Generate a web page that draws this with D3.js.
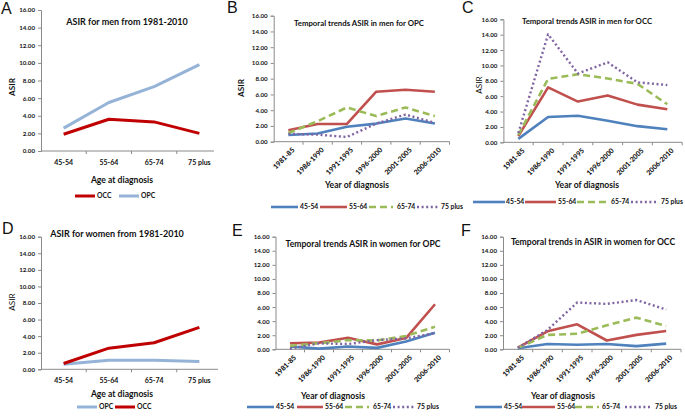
<!DOCTYPE html>
<html><head><meta charset="utf-8">
<script src="https://cdn.jsdelivr.net/npm/d3@7"></script>
<style>
body{margin:0;background:#fff}
svg{display:block}
text{font-family:Lato,"Open Sans",sans-serif;fill:#111}
</style>
</head><body><svg id="c" width="685" height="417"></svg>
<script>
// ---------- DATA ----------
const ageGroups = ["45-54", "55-64", "65-74", "75 plus"];
const periods = ["1981-85", "1986-1990", "1991-1995", "1996-2000", "2001-2005", "2006-2010"];
const yTickValues = [0, 2, 4, 6, 8, 10, 12, 14, 16];

// A: men, by age
const menOCC = [1.9, 3.6, 3.3, 2.0];
const menOPC = [2.6, 5.5, 7.3, 9.8];
// D: women, by age
const womenOPC = [0.6, 1.1, 1.1, 0.95];
const womenOCC = [0.7, 2.55, 3.2, 5.05];
// B: men OPC, by period
const menOPC_45_54 = [0.85, 1.05, 1.9, 2.3, 2.95, 2.3];
const menOPC_55_64 = [1.45, 2.25, 2.25, 6.35, 6.6, 6.35];
const menOPC_65_74 = [1.1, 2.6, 4.35, 3.25, 4.35, 3.25];
const menOPC_75plus = [1.0, 0.9, 0.6, 2.3, 3.45, 2.4];
// C: men OCC, by period
const menOCC_45_54 = [0.45, 3.3, 3.45, 2.8, 2.1, 1.7];
const menOCC_55_64 = [0.8, 7.15, 5.3, 6.1, 4.9, 4.3];
const menOCC_65_74 = [0.95, 8.25, 8.85, 8.3, 7.6, 4.95];
const menOCC_75plus = [1.2, 14.05, 8.95, 10.4, 7.8, 7.45];
// E: women OPC, by period
const womenOPC_45_54 = [0.4, 0.1, 0.4, 0.2, 1.1, 2.35];
const womenOPC_55_64 = [0.85, 0.95, 1.65, 0.7, 1.6, 6.4];
const womenOPC_65_74 = [0.5, 0.85, 1.3, 1.25, 1.9, 3.2];
const womenOPC_75plus = [0.1, 0.85, 0.75, 1.3, 1.55, 2.3];
// F: women OCC, by period
const womenOCC_45_54 = [0.15, 0.75, 0.65, 0.75, 0.45, 0.8];
const womenOCC_55_64 = [0.25, 2.55, 3.55, 1.25, 2.05, 2.6];
const womenOCC_65_74 = [0.2, 2.05, 2.2, 3.4, 4.5, 3.3];
const womenOCC_75plus = [0.2, 2.75, 6.65, 6.45, 7.0, 5.65];

// ---------- STYLES ----------
const AXIS = "#8a8a8a";
const ST = {
  OCC: {color: "#C00000", width: 3, dash: null},
  OPC: {color: "#95B3D7", width: 3, dash: null},
  "45-54": {color: "#4F81BD", width: 2.6, dash: null},
  "55-64": {color: "#C0504D", width: 2.6, dash: null},
  "65-74": {color: "#9BBB59", width: 2.6, dash: "7,4"},
  "75 plus": {color: "#8064A2", width: 2.4, dash: "2,2.6"}
};

const svg = d3.select("#c");

function panel(cfg) {
  const g = svg.append("g");
  const x = d3.scaleBand().domain(cfg.cats).range(cfg.xr);
  const y = d3.scaleLinear().domain([0, 16]).range(cfg.yr);
  const x0 = cfg.xr[0], yb = cfg.yr[0];

  // y axis
  const ya = g.append("g").attr("transform", `translate(${x0},0)`)
    .call(d3.axisLeft(y).tickValues(yTickValues).tickFormat(d3.format(".2f")).tickSize(3).tickPadding(3));
  ya.select(".domain").attr("stroke", AXIS);
  ya.selectAll(".tick line").attr("stroke", AXIS);
  ya.selectAll(".tick text").attr("font-size", 6.2).attr("font-weight", 700)
    .attr("font-family", "Lato,sans-serif").attr("fill", "#111");

  // x axis
  const xa = g.append("g");
  xa.append("line").attr("x1", x0).attr("x2", cfg.xEnd || cfg.xr[1]).attr("y1", yb).attr("y2", yb)
    .attr("stroke", AXIS);
  const edges = cfg.cats.map(c => x(c)).concat([cfg.xr[1]]).slice(1);
  xa.selectAll("line.t").data(edges.filter(e => e <= (cfg.xEnd || cfg.xr[1]) + 0.5)).join("line")
    .attr("x1", d => d).attr("x2", d => d).attr("y1", yb).attr("y2", yb + 3).attr("stroke", AXIS);

  const cx = c => x(c) + x.bandwidth() / 2;
  if (cfg.rotate) {
    xa.selectAll("text.xl").data(cfg.cats).join("text")
      .attr("transform", c => `translate(${cx(c) + 5},${yb + 7}) rotate(-45)`)
      .attr("text-anchor", "end").attr("dy", "0.35em")
      .attr("font-size", 7).attr("font-weight", 900).attr("fill", "#000").text(c => c);
  } else {
    xa.selectAll("text.xl").data(cfg.cats).join("text")
      .attr("x", c => cx(c)).attr("y", yb + 14)
      .attr("text-anchor", "middle")
      .attr("font-size", 7).attr("font-weight", 700).text(c => c);
  }

  // lines
  const line = d3.line().x((d, i) => cx(cfg.cats[i])).y(d => y(d));
  cfg.series.forEach(s => {
    const st = ST[s.name];
    g.append("path").datum(s.values).attr("d", line)
      .attr("fill", "none").attr("stroke", st.color).attr("stroke-width", st.width)
      .attr("stroke-dasharray", st.dash).attr("stroke-linejoin", "round");
  });

  // title
  g.append("text").attr("x", cfg.title[1]).attr("y", cfg.title[2]).attr("text-anchor", "middle")
    .attr("font-size", cfg.title[3]).attr("font-weight", 700).text(cfg.title[0]);
  // x label
  g.append("text").attr("x", cfg.xlab[1]).attr("y", cfg.xlab[2]).attr("text-anchor", "middle")
    .attr("font-size", 8.6).attr("font-weight", 700).text(cfg.xlab[0]);
  // y label
  if (cfg.ylab) {
    g.append("text").attr("transform", `translate(${cfg.ylab[0]},${cfg.ylab[1]}) rotate(-90)`)
      .attr("text-anchor", "middle").attr("dy", "0.35em")
      .attr("font-size", 8.2).attr("font-weight", cfg.ylab[2] ? 700 : 400).text("ASIR");
  }
  // panel letter
  svg.append("text").attr("x", cfg.letter[1]).attr("y", cfg.letter[2])
    .attr("font-size", 16)
    .style("font-family", "'Liberation Sans', Arial, sans-serif").text(cfg.letter[0]);

  // legend
  const lg = g.append("g");
  cfg.legend.items.forEach(it => {
    const st = ST[it.name];
    lg.append("line").attr("x1", it.l[0]).attr("x2", it.l[1])
      .attr("y1", cfg.legend.y).attr("y2", cfg.legend.y)
      .attr("stroke", st.color).attr("stroke-width", st.width).attr("stroke-dasharray", st.dash);
    lg.append("text").attr("x", it.t).attr("y", cfg.legend.y).attr("dy", "0.35em")
      .attr("font-size", 6.8).attr("font-weight", 700).text(it.name);
  });
}

const periodLegend = (y, pos) => ({
  y, items: ageGroups.map((n, i) => ({name: n, l: pos[i].slice(0, 2), t: pos[i][2]}))
});

// A
panel({
  cats: ageGroups, xr: [41, 222], xEnd: 214, yr: [151, 10], rotate: false,
  series: [{name: "OCC", values: menOCC}, {name: "OPC", values: menOPC}],
  title: ["ASIR for men from 1981-2010", 127, 25, 9],
  xlab: ["Age at diagnosis", 122, 183], ylab: [12, 87, true], letter: ["A", 1, 14],
  legend: {y: 196, items: [{name: "OCC", l: [75, 95], t: 97}, {name: "OPC", l: [119, 139], t: 141}]}
});
// D
panel({
  cats: ageGroups, xr: [41, 222], xEnd: 218, yr: [369.3, 236.7], rotate: false,
  series: [{name: "OPC", values: womenOPC}, {name: "OCC", values: womenOCC}],
  title: ["ASIR for women from 1981-2010", 117, 237, 9],
  xlab: ["Age at diagnosis", 122, 397], ylab: [12.5, 302, false], letter: ["D", 2, 234],
  legend: {y: 407, items: [{name: "OPC", l: [77, 97], t: 99}, {name: "OCC", l: [115, 135], t: 137}]}
});
// B
panel({
  cats: periods, xr: [273.7, 449.5], yr: [141.7, 15.7], rotate: true,
  series: ageGroups.map((n, i) => ({name: n, values: [menOPC_45_54, menOPC_55_64, menOPC_65_74, menOPC_75plus][i]})),
  title: ["Temporal trends ASIR in men for OPC", 359, 26, 7.8],
  xlab: ["Year of diagnosis", 357, 188], ylab: [241, 88, true], letter: ["B", 227, 13],
  legend: periodLegend(207, [[271, 298, 300], [320, 347, 349], [369, 393, 397], [417, 438, 441]])
});
// C
panel({
  cats: periods, xr: [503.4, 682.2], yr: [142.3, 19.3], rotate: true,
  series: ageGroups.map((n, i) => ({name: n, values: [menOCC_45_54, menOCC_55_64, menOCC_65_74, menOCC_75plus][i]})),
  title: ["Temporal trends ASIR in men for OCC", 587, 24, 7.8],
  xlab: ["Year of diagnosis", 587, 188], ylab: [479, 85, false], letter: ["C", 462, 13],
  legend: periodLegend(202, [[473, 505, 506], [525, 556, 558], [577, 608, 611], [631, 658, 661]])
});
// E
panel({
  cats: periods, xr: [275.5, 449.5], yr: [349.3, 236.7], rotate: true,
  series: ageGroups.map((n, i) => ({name: n, values: [womenOPC_45_54, womenOPC_55_64, womenOPC_65_74, womenOPC_75plus][i]})),
  title: ["Temporal trends ASIR in women for OPC", 363, 247, 8.6],
  xlab: ["Year of diagnosis", 333, 399], ylab: null, letter: ["E", 232, 236],
  legend: periodLegend(407, [[247, 274, 276], [297, 323, 325], [345, 369, 373], [393, 414, 417]])
});
// F
panel({
  cats: periods, xr: [503, 681], yr: [349.3, 236.7], rotate: true,
  series: ageGroups.map((n, i) => ({name: n, values: [womenOCC_45_54, womenOCC_55_64, womenOCC_65_74, womenOCC_75plus][i]})),
  title: ["Temporal trends in ASIR in women for OCC", 593, 245, 8.6],
  xlab: ["Year of diagnosis", 563, 399], ylab: null, letter: ["F", 461, 236],
  legend: periodLegend(407, [[475, 502, 504], [522, 555, 557], [575, 599, 602], [625, 652, 655]])
});
</script>
</body></html>
